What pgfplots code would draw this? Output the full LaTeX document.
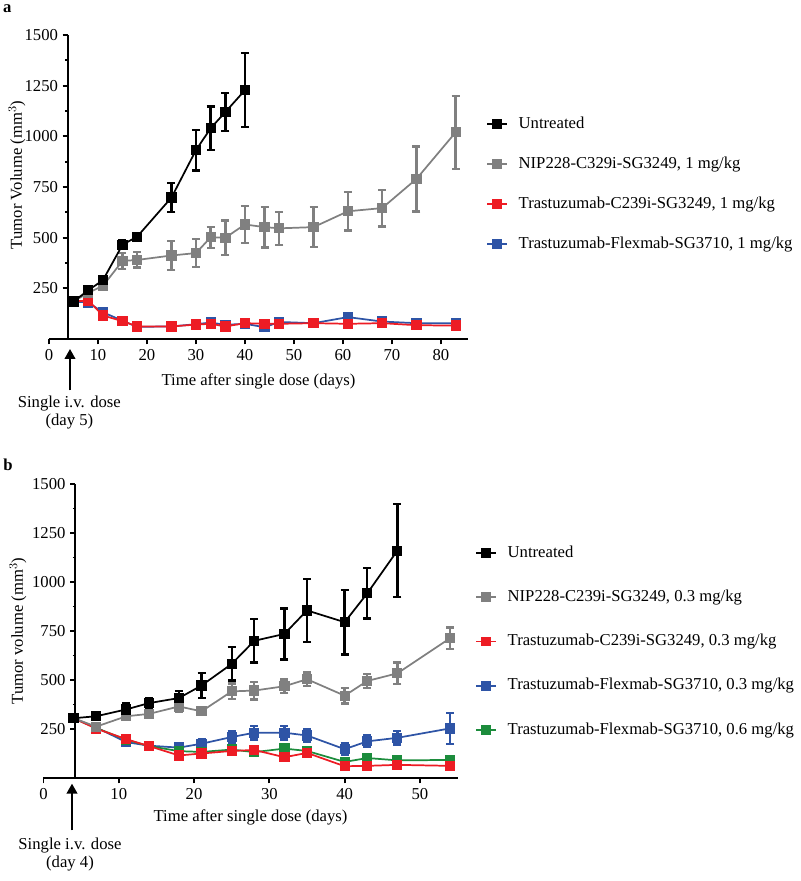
\documentclass[border=0pt]{standalone}
\usepackage{pgfplots}
\pgfplotsset{compat=1.18}
\usepackage{fontspec}
\setmainfont{Liberation Serif}
\usetikzlibrary{arrows.meta}
\definecolor{cgray}{RGB}{128,128,128}
\definecolor{cred}{RGB}{237,28,36}
\definecolor{cblue}{RGB}{46,84,166}
\definecolor{cgreen}{RGB}{28,140,60}
\newcommand{\ff}{\fontsize{12.5}{14.5}\selectfont}
\pgfplotsset{
  prism/.style={
    scale only axis, clip=false,
    axis x line=bottom, axis y line=left, axis line style={-, line width=1.5pt},
    tick align=outside, major tick length=4pt, minor tick length=2pt,
    every tick/.style={line width=1.4pt, black},
    minor y tick num=1,
    ymin=0, ymax=1500, ytick={250,500,750,1000,1250,1500},
    /pgf/number format/assume math mode=true,
    /pgf/number format/1000 sep={},
    tick label style={font=\ff},
    legend cell align=left,
    legend style={draw=none, fill=none, inner sep=0pt, column sep=8pt,
      font=\ff,
      nodes={inner sep=0pt, text height=9pt, text depth=3pt}},
    legend image code/.code={\draw[mark repeat=2,mark phase=2] plot coordinates {(0pt,0pt) (7.5pt,0pt) (15pt,0pt)};},
  },
  ser/.style={color=#1, line width=1.3pt, mark=square*, mark size=3.2pt,
    mark options={fill=#1, draw=#1},
    error bars/.cd, y dir=both, y explicit,
    error bar style={line width=1.8pt, color=#1},
    error mark options={rotate=90, mark size=3pt, line width=1.8pt, color=#1},
    /pgfplots/.cd},
  leg/.style={color=#1, line width=1.3pt, mark=square*, mark size=3pt, mark options={fill=#1, draw=#1}},
}
\pgfplotstableread{
d v e
5 185 10
8 240 12
11 290 15
15 465 22
18 505 12
25 698 72
30 932 100
33 1040 107
36 1120 95
40 1228 182
}\aUnt
\pgfplotstableread{
d v e
5 185 10
8 228 12
11 262 18
15 385 40
18 390 38
25 412 72
30 424 68
33 502 52
36 500 85
40 565 90
44 552 100
47 546 82
54 552 98
61 630 95
68 646 90
75 790 160
83 1020 180
}\aNip
\pgfplotstableread{
d v e
5 185 8
8 190 8
11 116 8
15 88 6
18 62 6
25 62 5
30 71 6
33 75 6
36 62 6
40 78 6
44 75 6
47 75 6
54 78 6
61 75 6
68 78 6
75 68 6
83 66 6
}\aRed
\pgfplotstableread{
d v e
5 185 8
8 180 8
11 132 8
15 90 6
18 60 6
25 62 6
30 73 6
33 81 6
36 70 6
40 75 6
44 58 6
47 84 6
54 78 6
61 108 6
68 86 6
75 78 6
83 78 6
}\aBlue
\pgfplotstableread{
d v e
4 305 15
7 315 15
11 350 30
14 382 25
18 408 35
21 472 64
25 582 85
28 700 110
32 735 130
35 855 160
40 795 165
43 942 128
47 1160 237
}\bUnt
\pgfplotstableread{
d v e
4 305 15
7 262 15
11 315 20
14 327 20
18 365 25
21 340 20
25 442 40
28 446 45
32 468 35
35 504 35
40 420 40
43 495 35
47 534 55
54 713 55
}\bNip
\pgfplotstableread{
d v e
4 305 10
7 252 10
11 198 10
14 163 10
18 115 10
21 125 10
25 138 10
28 143 10
32 106 10
35 128 10
40 60 8
43 62 8
47 67 8
54 62 8
}\bRed
\pgfplotstableread{
d v e
4 305 12
7 258 12
11 183 15
14 165 15
18 155 20
21 175 22
25 209 30
28 231 35
32 231 35
35 217 30
40 147 30
43 187 30
47 205 35
54 253 80
}\bBlue
\pgfplotstableread{
d v e
4 305 10
7 255 10
11 195 10
14 163 10
18 137 10
21 133 10
25 145 10
28 132 10
32 150 10
35 138 10
40 82 10
43 102 10
47 90 10
54 92 10
}\bGreen
\begin{document}
\begin{tikzpicture}
\useasboundingbox (0,0) rectangle (600pt,660.75pt);
% ---------- panel a ----------
\begin{axis}[prism,
  at={(36.75pt,406.5pt)}, anchor=south west,
  width=314.2pt, height=228pt,
  xmin=0, xmax=85.5, xtick={0,10,...,80},
  axis y line shift=-14.25pt,
  xlabel={Time after single dose (days)},
  ylabel={Tumor Volume (mm$^3$)},
  every axis x label/.style={at={(axis description cs:0.5,0)}, anchor=center, yshift=-32pt, font=\ff},
  every axis y label/.style={at={(axis description cs:-0.0764,0.54)}, anchor=center, rotate=90, font=\ff},
  legend style={at={(axis description cs:1.0431,0.7336)}, anchor=north west, row sep=18pt},
]
\addlegendimage{leg=black}\addlegendentry{Untreated}
\addlegendimage{leg=cgray}\addlegendentry{NIP228-C329i-SG3249, 1 mg/kg}
\addlegendimage{leg=cred}\addlegendentry{Trastuzumab-C239i-SG3249, 1 mg/kg}
\addlegendimage{leg=cblue}\addlegendentry{Trastuzumab-Flexmab-SG3710, 1 mg/kg}
\addplot[forget plot, ser=cblue] table[x=d, y=v, y error=e] {\aBlue};
\addplot[forget plot, ser=cred] table[x=d, y=v, y error=e] {\aRed};
\addplot[forget plot, ser=cgray] table[x=d, y=v, y error=e] {\aNip};
\addplot[forget plot, ser=black] table[x=d, y=v, y error=e] {\aUnt};
\end{axis}
% ---------- panel b ----------
\begin{axis}[prism,
  at={(32.6pt,77.25pt)}, anchor=south west,
  width=310.6pt, height=220.5pt,
  xmin=0, xmax=55, xtick={0,10,...,50},
  axis y line shift=-24pt,
  xlabel={Time after single dose (days)},
  ylabel={Tumor volume (mm$^3$)},
  every axis x label/.style={at={(axis description cs:0.5,0)}, anchor=center, yshift=-29.25pt, font=\ff},
  every axis y label/.style={at={(axis description cs:-0.0615,0.5)}, anchor=center, rotate=90, font=\ff},
  legend style={at={(axis description cs:1.042,0.7934)}, anchor=north west, row sep=21.2pt},
]
\addlegendimage{leg=black}\addlegendentry{Untreated}
\addlegendimage{leg=cgray}\addlegendentry{NIP228-C239i-SG3249, 0.3 mg/kg}
\addlegendimage{leg=cred}\addlegendentry{Trastuzumab-C239i-SG3249, 0.3 mg/kg}
\addlegendimage{leg=cblue}\addlegendentry{Trastuzumab-Flexmab-SG3710, 0.3 mg/kg}
\addlegendimage{leg=cgreen}\addlegendentry{Trastuzumab-Flexmab-SG3710, 0.6 mg/kg}
\addplot[forget plot, ser=cblue] table[x=d, y=v, y error=e] {\bBlue};
\addplot[forget plot, ser=cgreen] table[x=d, y=v, y error=e] {\bGreen};
\addplot[forget plot, ser=cred] table[x=d, y=v, y error=e] {\bRed};
\addplot[forget plot, ser=cgray] table[x=d, y=v, y error=e] {\bNip};
\addplot[forget plot, ser=black] table[x=d, y=v, y error=e] {\bUnt};
\end{axis}
% ---------- annotations ----------
\node[font=\bfseries\ff] at (5.5pt,654.5pt) {a};
\node[font=\bfseries\ff] at (6pt,312pt) {b};
\draw[line width=1.5pt, -{Triangle[length=7.5pt,width=8pt]}] (52.5pt,368pt) -- (52.5pt,399pt);
\node[font=\fontsize{12.5}{13.5}\selectfont, align=center, anchor=north] at (52pt,367pt) {Single i.v. dose\\(day 5)};
\draw[line width=1.5pt, -{Triangle[length=7.5pt,width=8pt]}] (54pt,38pt) -- (54pt,73pt);
\node[font=\fontsize{12.5}{13.5}\selectfont, align=center, anchor=north] at (52.5pt,36pt) {Single i.v. dose\\(day 4)};
\end{tikzpicture}
\end{document}
